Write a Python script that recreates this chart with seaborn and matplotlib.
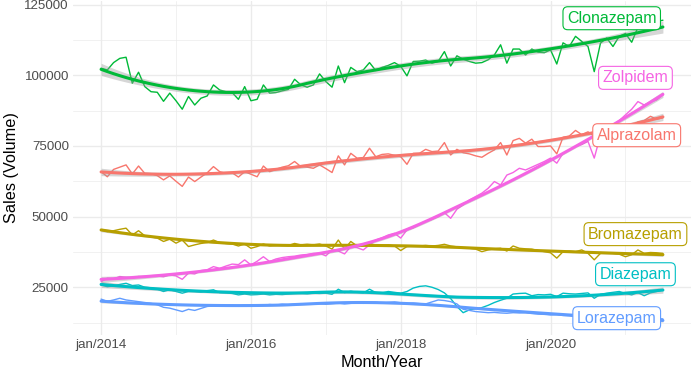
import numpy as np
import pandas as pd
import matplotlib
matplotlib.use("Agg")
import matplotlib.pyplot as plt
import seaborn as sns

# ---------------- data (monthly, jan/2014 .. jul/2021), values in thousands ----------------
n_months = 91
month_index = list(range(n_months))

alprazolam = [65.9, 64.1, 66.7, 67.5, 68.3, 65.1, 67.9, 65.3, 65.2, 64.5, 63.0, 64.4, 62.5, 60.7, 64.0,
              62.4, 64.0, 65.5, 67.7, 65.9, 65.3, 65.5, 64.0, 65.9, 65.0, 64.1, 67.9, 65.9, 66.7, 67.5,
              68.0, 69.5, 67.7, 67.5, 67.1, 68.3, 67.0, 65.6, 71.5, 68.3, 72.4, 70.7, 70.9, 74.2, 71.2,
              72.0, 72.2, 71.7, 71.2, 68.5, 72.4, 72.4, 73.8, 73.0, 73.2, 76.2, 71.8, 73.8, 72.6, 72.2,
              71.5, 71.0, 72.4, 73.6, 76.2, 71.8, 76.9, 77.7, 76.0, 77.4, 74.8, 74.8, 75.0, 72.2, 78.1,
              78.5, 80.5, 79.0, 80.0, 78.5, 81.0, 80.5, 82.0, 81.0, 82.5, 82.0, 83.5, 84.0, 85.5, 84.5, 85.0]

bromazepam = [45.3, 44.7, 45.0, 45.5, 45.9, 43.5, 45.0, 43.2, 42.8, 42.4, 41.2, 42.0, 40.6, 41.7, 39.4,
              40.0, 40.5, 40.8, 41.7, 40.8, 40.5, 40.3, 39.6, 40.3, 38.8, 39.4, 40.3, 39.6, 39.8, 40.0,
              39.8, 40.5, 40.0, 40.2, 40.0, 40.3, 39.6, 38.5, 41.7, 38.5, 41.2, 39.6, 39.8, 40.3, 40.0,
              39.8, 40.0, 39.6, 38.0, 39.4, 39.6, 39.6, 39.8, 39.6, 39.8, 40.2, 39.6, 39.3, 39.0, 38.8,
              38.5, 37.6, 38.2, 38.6, 38.8, 37.8, 39.6, 38.8, 38.6, 38.5, 38.0, 37.6, 37.2, 35.3, 37.6,
              37.8, 37.6, 38.2, 37.0, 34.7, 37.0, 37.2, 37.0, 36.7, 35.8, 36.5, 38.2, 37.0, 37.3, 37.2, 37.0]

clonazepam = [102.5, 101.9, 104.5, 106.0, 106.4, 97.2, 101.1, 96.0, 94.2, 94.0, 90.8, 93.7, 91.0, 88.0, 92.5,
              89.5, 91.9, 92.7, 96.6, 94.8, 94.2, 93.9, 91.5, 96.0, 91.0, 91.5, 96.6, 93.7, 93.9, 94.5,
              95.0, 98.6, 96.6, 95.8, 96.6, 100.5, 97.8, 95.8, 103.3, 97.4, 102.8, 101.3, 101.9, 104.5, 101.7,
              102.8, 103.5, 104.5, 103.2, 99.8, 104.9, 105.0, 105.4, 104.3, 104.9, 108.4, 103.3, 106.9, 105.7, 104.9,
              104.3, 104.5, 105.5, 107.2, 110.8, 104.3, 109.3, 109.3, 107.2, 109.3, 108.2, 108.0, 109.0, 104.0, 111.5,
              110.2, 113.8, 112.0, 110.2, 101.3, 111.4, 113.2, 110.2, 113.8, 114.8, 111.7, 117.0, 118.0, 117.5, 119.0, 119.5]

diazepam = [25.8, 25.2, 25.5, 26.0, 26.4, 25.6, 25.8, 25.0, 24.8, 24.3, 23.5, 24.1, 23.5, 22.9, 23.5,
            23.5, 23.3, 23.8, 24.1, 23.1, 23.0, 22.8, 22.3, 22.6, 22.3, 22.4, 22.6, 22.3, 22.5, 22.4,
            22.6, 22.8, 22.9, 22.7, 22.9, 22.8, 22.9, 22.5, 24.3, 23.1, 23.6, 23.2, 23.0, 24.3, 23.1,
            23.0, 23.5, 23.2, 22.9, 23.5, 24.7, 25.3, 25.5, 25.0, 24.2, 23.0, 21.0, 18.2, 16.0, 17.0,
            17.4, 17.8, 18.6, 19.6, 20.4, 21.1, 22.6, 22.8, 22.9, 22.0, 22.4, 22.3, 22.5, 21.7, 22.9,
            22.7, 22.6, 22.8, 23.0, 21.1, 22.5, 22.9, 23.2, 23.5, 22.8, 22.3, 23.1, 22.0, 23.0, 23.5, 24.1]

lorazepam = [20.8, 20.0, 20.5, 21.1, 20.5, 20.2, 19.9, 19.6, 19.3, 18.8, 17.9, 17.6, 17.0, 16.4, 17.2,
             16.8, 17.5, 18.2, 18.4, 18.3, 18.5, 18.6, 18.4, 18.7, 18.5, 18.8, 18.6, 18.9, 18.7, 19.0,
             18.8, 19.0, 19.2, 19.0, 19.1, 19.3, 19.0, 19.2, 19.4, 19.1, 19.3, 19.5, 19.3, 19.6, 19.7,
             19.4, 19.6, 19.8, 19.5, 19.3, 19.4, 19.2, 19.1, 19.8, 20.5, 20.3, 19.9, 19.1, 17.2, 16.8,
             16.4, 16.2, 16.0, 16.1, 15.9, 15.8, 16.0, 15.9, 16.0, 15.7, 15.5, 15.4, 15.2, 15.3, 15.0,
             14.9, 14.6, 14.7, 14.5, 14.4, 14.3, 14.0, 14.2, 14.1, 14.0, 14.0, 13.9, 14.0, 13.8, 13.9, 13.8]

zolpidem = [27.0, 28.2, 28.0, 28.8, 28.5, 28.3, 28.8, 28.6, 28.9, 29.0, 28.7, 29.4, 29.0, 27.8, 30.0,
            29.7, 30.9, 31.2, 32.3, 31.7, 32.5, 33.2, 33.0, 34.7, 32.9, 34.2, 35.8, 34.1, 35.0, 35.5,
            35.8, 36.0, 36.4, 36.6, 37.0, 37.0, 36.1, 38.2, 37.8, 36.8, 39.4, 39.0, 38.2, 40.0, 41.7,
            42.5, 43.5, 44.1, 42.4, 45.3, 46.0, 47.1, 48.2, 49.0, 50.0, 51.4, 49.4, 52.6, 54.1, 55.9,
            57.1, 58.3, 60.0, 62.4, 61.2, 64.7, 65.6, 67.1, 66.5, 67.5, 68.5, 69.5, 70.7, 68.9, 72.4,
            73.5, 74.8, 75.5, 76.6, 70.7, 78.8, 80.5, 82.4, 84.0, 86.0, 88.0, 90.7, 89.5, 90.5, 91.3, 93.1]

drugs = ["Alprazolam", "Bromazepam", "Clonazepam", "Diazepam", "Lorazepam", "Zolpidem"]
series = [alprazolam, bromazepam, clonazepam, diazepam, lorazepam, zolpidem]
colors = ["#F8766D", "#B79F00", "#00BA38", "#00BFC4", "#619CFF", "#F564E3"]
unit = 1000

x_tick_pos = [0, 24, 48, 72]
x_tick_labels = ["jan/2014", "jan/2016", "jan/2018", "jan/2020"]
y_ticks = [25000, 50000, 75000, 100000, 125000]

# ---------------- loess (degree 2, span 0.75, tricube) ----------------
def loess_fit(x, y, span=0.75):
    x = np.asarray(x, float)
    y = np.asarray(y, float)
    n = len(x)
    q = int(np.floor(n * span))
    L = np.zeros((n, n))
    for i, x0 in enumerate(x):
        d = np.abs(x - x0)
        h = np.sort(d)[q - 1]
        w = np.clip(1 - (d / h) ** 3, 0, None) ** 3
        X = np.column_stack([np.ones(n), x - x0, (x - x0) ** 2])
        W = np.diag(w)
        A = np.linalg.pinv(X.T @ W @ X) @ X.T @ W
        L[i] = A[0]
    fit = L @ y
    res = y - fit
    dof = n - np.trace(L)
    sigma = np.sqrt(np.sum(res ** 2) / dof)
    se = sigma * np.sqrt(np.sum(L ** 2, axis=1))
    return fit, se

rows = []
smooth_rows = []
bands = {}
for name, vals in zip(drugs, series):
    v = np.array(vals) * unit
    for m, val in zip(month_index, v):
        rows.append({"Month": m, "Sales": val, "Drug": name})
    fit, se = loess_fit(month_index, v)
    bands[name] = (fit - 1.99 * se, fit + 1.99 * se)
    for m, f in zip(month_index, fit):
        smooth_rows.append({"Month": m, "Sales": f, "Drug": name})
df = pd.DataFrame(rows)
sm = pd.DataFrame(smooth_rows)

# ---------------- plot ----------------
sns.set_theme(style="white")
plt.rcParams["font.family"] = ["Liberation Sans", "DejaVu Sans"]

fig, ax = plt.subplots(figsize=(6.99, 3.73), dpi=100)
fig.subplots_adjust(left=73 / 699, right=691 / 699, bottom=(373 - 335) / 373, top=(373 - 1) / 373)

palette = dict(zip(drugs, colors))
sns.lineplot(data=df, x="Month", y="Sales", hue="Drug", palette=palette, linewidth=1.0,
             legend=False, ax=ax, zorder=2)
for i, name in enumerate(drugs):
    lo, hi = bands[name]
    ax.fill_between(month_index, lo, hi, color="#999999", alpha=0.4, linewidth=0, zorder=3 + i)
sns.lineplot(data=sm, x="Month", y="Sales", hue="Drug", palette=palette, linewidth=2.2,
             legend=False, ax=ax, zorder=10)

# labels (repel-style boxes near series ends)
label_pos = {
    "Clonazepam": (81.8, 120200),
    "Zolpidem": (85.6, 99100),
    "Alprazolam": (85.8, 78800),
    "Bromazepam": (85.6, 43800),
    "Diazepam": (85.6, 29600),
    "Lorazepam": (82.6, 14050),
}
for name in drugs:
    xx, yy = label_pos[name]
    ax.text(xx, yy, name, color=palette[name], fontsize=11.5, ha="center", va="center", zorder=20,
            bbox=dict(boxstyle="round,pad=0.25,rounding_size=0.3", fc="white", ec=palette[name], lw=0.8))

ax.set_xlim(-4.5, 94.5)
ax.set_ylim(8100, 126300)
ax.set_xticks(x_tick_pos)
ax.set_xticklabels(x_tick_labels)
ax.set_xticks([12, 36, 60, 84], minor=True)
ax.set_yticks(y_ticks)
ax.set_yticklabels([str(t) for t in y_ticks])
ax.set_yticks([12500, 37500, 62500, 87500, 112500], minor=True)
ax.grid(which="major", color="#EBEBEB", linewidth=1.0)
ax.grid(which="minor", color="#EBEBEB", linewidth=0.5)
ax.set_axisbelow(True)
ax.tick_params(axis="both", which="both", length=0, labelsize=9.6, labelcolor="#4D4D4D", pad=3)
for s in ax.spines.values():
    s.set_visible(False)
ax.set_xlabel("Month/Year", fontsize=11.7, color="black", labelpad=3)
ax.set_ylabel("Sales (Volume)", fontsize=11.7, color="black", labelpad=4)

fig.savefig("out.png", dpi=100)
